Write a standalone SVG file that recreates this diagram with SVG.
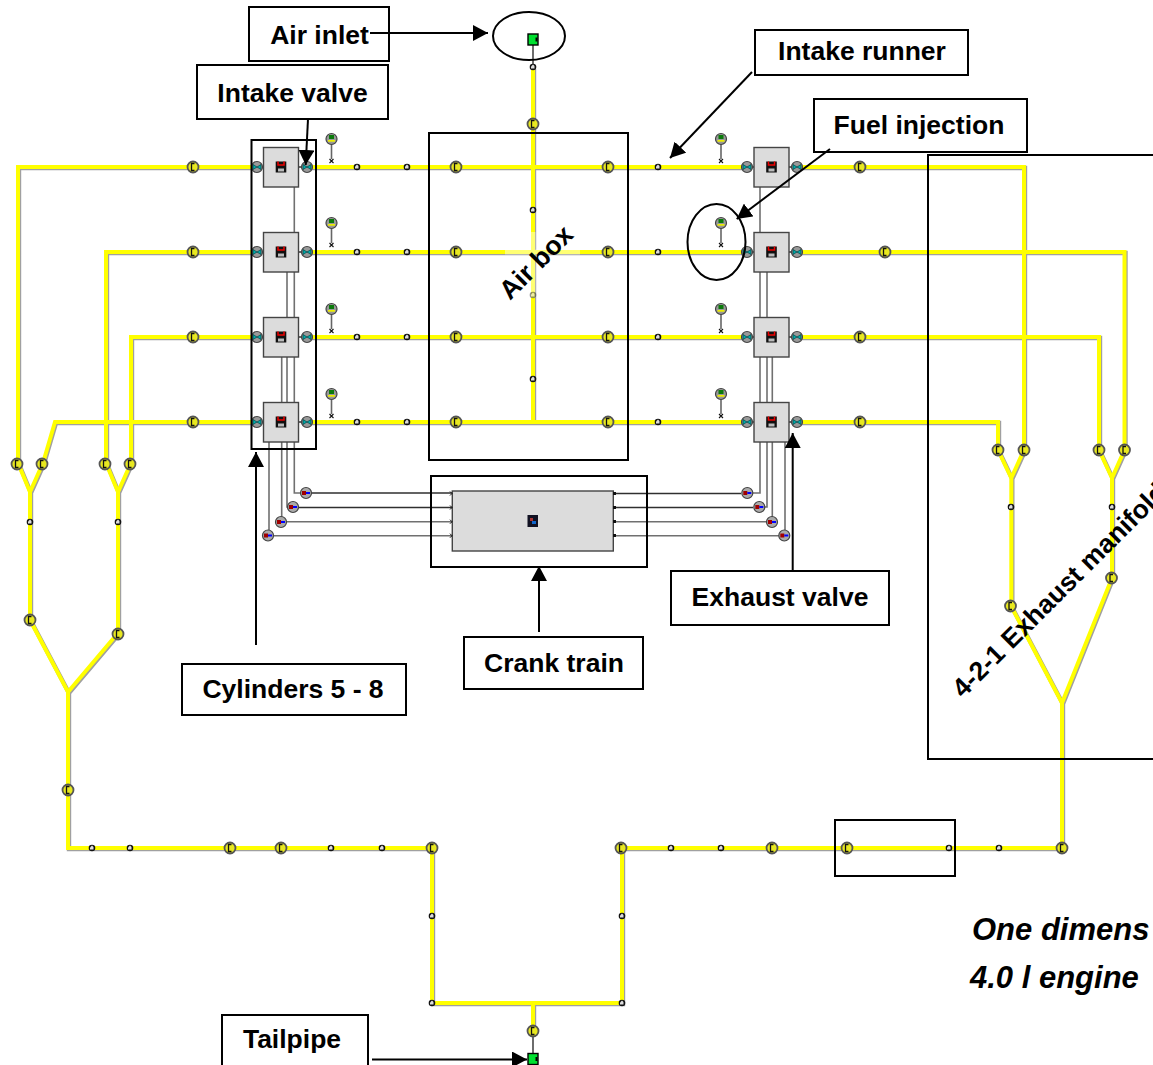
<svg xmlns="http://www.w3.org/2000/svg" width="1153" height="1065" viewBox="0 0 1153 1065">
<style>
.ps{fill:none;stroke:#a0a0a0;stroke-width:4.4;transform:translate(1px,1px)}
.p{fill:none;stroke:#ffff00;stroke-width:4}
.w{fill:none;stroke:#707070;stroke-width:1.6}
.k{fill:none;stroke:#303030;stroke-width:1.4}
.b{fill:none;stroke:#000;stroke-width:2}
.lb{fill:#fff;stroke:#000;stroke-width:2}
.a{fill:none;stroke:#000;stroke-width:2;marker-end:url(#ah)}
.t{font-family:"Liberation Sans",Arial,sans-serif;font-weight:bold;font-size:26.5px;fill:#000;text-anchor:middle}
.s{text-anchor:start}
.i{font-size:31px;font-style:italic;text-anchor:start}
.cyl{fill:#dcdcdc;stroke:#444;stroke-width:1.4}
</style>
<defs>
<marker id="ah" viewBox="0 0 15 16" refX="15" refY="8" markerWidth="15" markerHeight="16" markerUnits="userSpaceOnUse" orient="auto"><path d="M0 0L15 8L0 16Z" fill="#000"/></marker>
<g id="c"><circle r="5.500" fill="#e8e820" stroke="#555" stroke-width="1.800"/><path d="M1.500-3.500H-1.500V3.500H1.500" fill="none" stroke="#111" stroke-width="1.300"/></g>
<g id="d"><circle r="3.300" fill="#111"/><path d="M-2 1.400V-.6L0-2.500L1.500-1V1.400Z" fill="#ddd"/></g>
<g id="v"><circle r="5.500" fill="#999" stroke="#444" stroke-width="1.200"/><path d="M-4-2.500L4 2.500V-2.500L-4 2.500Z" fill="#0aa" stroke="#044" stroke-width=".7"/></g>
<g id="vl"><use href="#v"/><path d="M6 0H9" stroke="#000" stroke-width="1.200"/></g>
<g id="vr"><use href="#v"/><path d="M-6 0H-9" stroke="#000" stroke-width="1.200"/></g>
<g id="x"><circle r="5.500" fill="#aaa" stroke="#444" stroke-width="1.200"/><rect x="-4" y="-2" width="4" height="4" fill="#a00000"/><path d="M0 0H4" stroke="#00f" stroke-width="2"/></g>
<g id="inj"><path d="M0 5V20" stroke="#666" stroke-width="1.600"/><path d="M-2 20L2 24M2 20L-2 24" stroke="#111" stroke-width="1.100"/><circle r="5.500" fill="#999" stroke="#444" stroke-width="1.200"/><rect x="-2.500" y="-4" width="5" height="4" fill="#0a7a0a"/><rect x="-3.500" y="1" width="7" height="1.700" fill="#ee0"/></g>
<g id="cy"><rect x="-17.500" y="-19.500" width="35" height="39.500" class="cyl"/><rect x="-5.300" y="-5.500" width="10.600" height="11" fill="#111"/><path d="M-3-5.500V-2H3V-5.500" fill="none" stroke="#e00" stroke-width="1.500"/><rect x="-3" y="1.500" width="6" height="3" fill="#bbb"/></g>
<g id="g"><rect x="-5" y="-5.500" width="10" height="11" fill="#00e030" stroke="#000" stroke-width="1.400"/><rect x="2.500" y="-2" width="2" height="4" fill="#000"/></g>
</defs>

<g id="connectors">
<path class="k" d="M533 44V68M533 1035V1054M300 493H452M298 507.500H452M613 493.500H741M613 507.500H753"/>
<path class="w" d="M287 521.700H452M273 535.700H452M613 521.700H767M613 535.700H779"/>
<path class="w" d="M294.300 186V232M294.300 272V317M287 272V317M294.300 357V402M287 357V402M281.700 357V402M294.300 442V493H300M287 442V507H293M281.700 442V517M269 442V530M760 186V232M760 272V317M767 272V317M760 357V402M767 357V402M772.300 357V402M760 442V493H752M767 442V507H764M772.300 442V517M785 442V530"/>
<g id="pipes">
<path class="ps" d="M256 167H18V463M256 252H106V463M256 337H131V463M256 422H55L43 463M307 167H747M307 252H747M307 337H747M307 422H747M797 167H1024V450M797 252H1124.500V450M797 337H1099V450M797 422H998V450M533 68V422M18 463L30 492L43 463M30 492V620M106 463L118 492L131 463M118 492V633M30 620L68 692L118 633M68 692V848H432V1003H622V848H1062V703M533 1003V1030M998 450L1011.300 478L1024 450M1011.300 478V606M1099 450L1112 478L1124.500 450M1112 478V578M1011 606L1062 703L1112 578"/>
<path class="p" d="M256 167H18V463M256 252H106V463M256 337H131V463M256 422H55L43 463M307 167H747M307 252H747M307 337H747M307 422H747M797 167H1024V450M797 252H1124.500V450M797 337H1099V450M797 422H998V450M533 68V422M18 463L30 492L43 463M30 492V620M106 463L118 492L131 463M118 492V633M30 620L68 692L118 633M68 692V848H432V1003H622V848H1062V703M533 1003V1030M998 450L1011.300 478L1024 450M1011.300 478V606M1099 450L1112 478L1124.500 450M1112 478V578M1011 606L1062 703L1112 578"/>
</g>
</g>

<g id="pipe-joints">
<use href="#c" x="193" y="167"/><use href="#c" x="456" y="167"/><use href="#c" x="608" y="167"/><use href="#c" x="860" y="167"/>
<use href="#c" x="193" y="252"/><use href="#c" x="456" y="252"/><use href="#c" x="608" y="252"/><use href="#c" x="885" y="252"/>
<use href="#c" x="193" y="337"/><use href="#c" x="456" y="337"/><use href="#c" x="608" y="337"/><use href="#c" x="860" y="337"/>
<use href="#c" x="193" y="422"/><use href="#c" x="456" y="422"/><use href="#c" x="608" y="422"/><use href="#c" x="860" y="422"/>
<use href="#c" x="17" y="464"/><use href="#c" x="42" y="464"/><use href="#c" x="105" y="464"/><use href="#c" x="130" y="464"/>
<use href="#c" x="30" y="620"/><use href="#c" x="118" y="634"/><use href="#c" x="68" y="790"/>
<use href="#c" x="230" y="848"/><use href="#c" x="281" y="848"/><use href="#c" x="432" y="848"/><use href="#c" x="621" y="848"/><use href="#c" x="772" y="848"/><use href="#c" x="847" y="848"/><use href="#c" x="1062" y="848"/>
<use href="#c" x="533" y="124"/><use href="#c" x="533" y="1031"/>
<use href="#c" x="998" y="450"/><use href="#c" x="1024" y="450"/><use href="#c" x="1099" y="450"/><use href="#c" x="1124.500" y="450"/><use href="#c" x="1010.500" y="606"/><use href="#c" x="1111.500" y="578"/>
</g>
<g id="pipe-dots">
<use href="#d" x="357" y="167"/><use href="#d" x="407" y="167"/><use href="#d" x="658" y="167"/>
<use href="#d" x="357" y="252"/><use href="#d" x="407" y="252"/><use href="#d" x="658" y="252"/>
<use href="#d" x="357" y="337"/><use href="#d" x="407" y="337"/><use href="#d" x="658" y="337"/>
<use href="#d" x="357" y="422"/><use href="#d" x="407" y="422"/><use href="#d" x="658" y="422"/>
<use href="#d" x="533" y="67"/><use href="#d" x="533" y="210"/><use href="#d" x="533" y="379"/>
<use href="#d" x="30" y="522"/><use href="#d" x="118" y="522"/>
<use href="#d" x="92" y="848"/><use href="#d" x="130" y="848"/><use href="#d" x="331" y="848"/><use href="#d" x="382" y="848"/><use href="#d" x="671" y="848"/><use href="#d" x="721" y="848"/><use href="#d" x="949" y="848"/><use href="#d" x="999" y="848"/>
<use href="#d" x="432" y="916"/><use href="#d" x="622" y="916"/><use href="#d" x="432" y="1003"/><use href="#d" x="622" y="1003"/>
<use href="#d" x="1011" y="507"/><use href="#d" x="1112" y="507"/>
</g>
<g id="injectors">
<use href="#inj" x="331.500" y="139"/><use href="#inj" x="331.500" y="223"/><use href="#inj" x="331.500" y="309"/><use href="#inj" x="331.500" y="394"/>
<use href="#inj" x="721" y="139"/><use href="#inj" x="721" y="223"/><use href="#inj" x="721" y="309"/><use href="#inj" x="721" y="394"/>
</g>
<g id="valves">
<use href="#vl" x="257" y="167"/><use href="#vr" x="307" y="167"/><use href="#vl" x="257" y="252"/><use href="#vr" x="307" y="252"/><use href="#vl" x="257" y="337"/><use href="#vr" x="307" y="337"/><use href="#vl" x="257" y="422"/><use href="#vr" x="307" y="422"/>
<use href="#vl" x="747" y="167"/><use href="#vr" x="797" y="167"/><use href="#vl" x="747" y="252"/><use href="#vr" x="797" y="252"/><use href="#vl" x="747" y="337"/><use href="#vr" x="797" y="337"/><use href="#vl" x="747" y="422"/><use href="#vr" x="797" y="422"/>
</g>
<g id="cylinders">
<use href="#cy" x="281" y="167"/><use href="#cy" x="281" y="252"/><use href="#cy" x="281" y="337"/><use href="#cy" x="281" y="422"/>
<use href="#cy" x="771.500" y="167"/><use href="#cy" x="771.500" y="252"/><use href="#cy" x="771.500" y="337"/><use href="#cy" x="771.500" y="422"/>
</g>
<g id="crank-joints">
<use href="#x" x="306" y="493"/><use href="#x" x="293" y="507"/><use href="#x" x="281" y="522"/><use href="#x" x="268" y="535.500"/>
<use href="#x" x="747.300" y="493"/><use href="#x" x="759.300" y="507"/><use href="#x" x="772" y="522"/><use href="#x" x="784.300" y="535.500"/>
</g>
<g id="crank"><rect x="452.300" y="491" width="161" height="60" class="cyl"/><rect x="527.500" y="515" width="10.500" height="12" fill="#112"/><rect x="530" y="518" width="3" height="3" fill="#a33"/><rect x="532" y="521" width="4" height="3" fill="#16c"/><path d="M450 491.500l2 2-2 2M450 505.500l2 2-2 2M450 519.700l2 2-2 2M450 533.700l2 2-2 2" fill="none" stroke="#111"/><path d="M613 492h3v3h-3zM613 506h3v3h-3zM613 520h3v3h-3zM613 534h3v3h-3z" fill="#111"/></g>
<g id="air-inlet"><ellipse cx="529" cy="36" rx="36" ry="24" class="b"/><use href="#g" x="533" y="39.500"/></g>
<g id="tailpipe-end"><use href="#g" x="533" y="1059"/></g>

<g id="outlines">
<rect x="251.500" y="140" width="64.500" height="309" class="b"/>
<rect x="429" y="133" width="199" height="327" class="b"/>
<rect x="431" y="476" width="216" height="91" class="b"/>
<path class="b" d="M1160 155H928V759H1160"/>
<rect x="835" y="820" width="120" height="56" class="b"/>
<ellipse cx="716.500" cy="242" rx="29" ry="38" class="b"/>
</g>

<g id="label-air-inlet"><rect x="249" y="7" width="140" height="54" class="lb"/><text class="t" x="319.500" y="44">Air inlet</text></g>
<g id="label-intake-runner"><rect x="755" y="30" width="213" height="45" class="lb"/><text class="t" x="862" y="60">Intake runner</text></g>
<g id="label-intake-valve"><rect x="197" y="65" width="191" height="54" class="lb"/><text class="t" x="292.500" y="101.500">Intake valve</text></g>
<g id="label-fuel-injection"><rect x="814" y="99" width="213" height="53" class="lb"/><text class="t" x="919" y="134">Fuel injection</text></g>
<g id="label-cylinders"><rect x="182" y="664" width="224" height="51" class="lb"/><text class="t" x="293" y="698">Cylinders 5 - 8</text></g>
<g id="label-crank-train"><rect x="464" y="637" width="179" height="52" class="lb"/><text class="t" x="554" y="672">Crank train</text></g>
<g id="label-exhaust-valve"><rect x="671" y="571" width="218" height="54" class="lb"/><text class="t" x="780" y="606">Exhaust valve</text></g>
<g id="label-tailpipe"><rect x="222" y="1015" width="146" height="60" class="lb"/><text class="t" x="292" y="1048">Tailpipe</text></g>

<g id="arrows">
<path class="a" d="M370 33H488"/>
<path class="a" d="M752 72L670 158"/>
<path class="a" d="M308 119L305.700 165"/>
<path class="a" d="M830 149L736.700 219"/>
<path class="a" d="M256 645V452"/>
<path class="a" d="M539 632V566"/>
<path class="a" d="M792.700 570V433"/>
<path class="a" d="M372 1059.500H527"/>
</g>

<path d="M505 252H580M533 232V298" fill="none" stroke="#fff" stroke-width="5" opacity=".45"/>
<use href="#d" x="533" y="295" opacity=".45"/>
<text class="t s" transform="translate(510 301) rotate(-45)">Air box</text>
<text class="t s" transform="translate(963 699) rotate(-45)">4-2-1 Exhaust manifold</text>
<text class="t i" x="972" y="940">One dimens</text>
<text class="t i" x="970" y="988">4.0 l engine</text>
</svg>
